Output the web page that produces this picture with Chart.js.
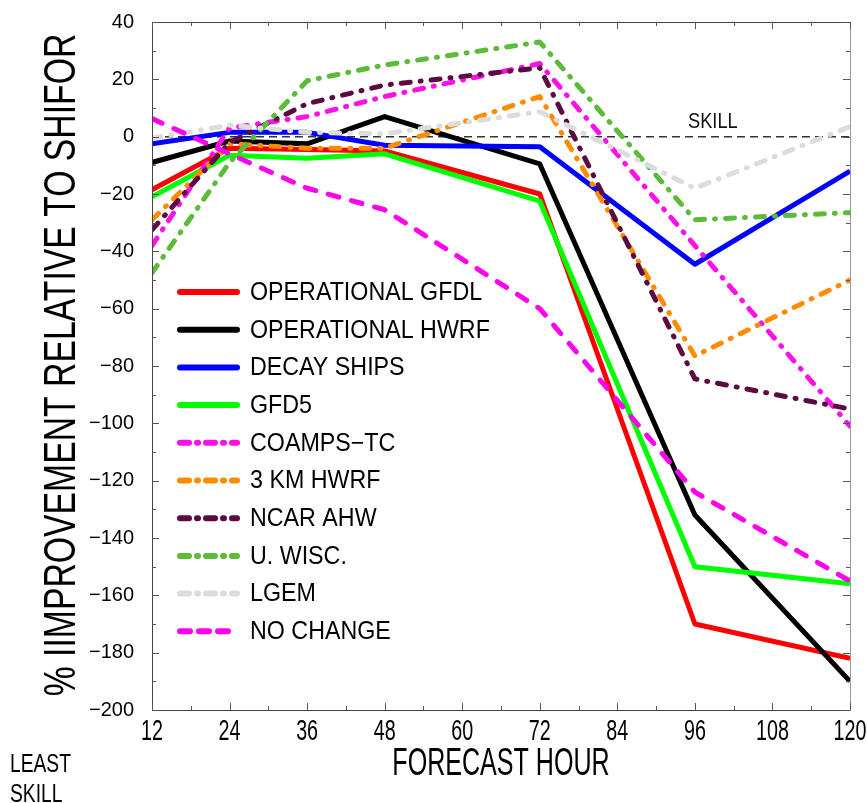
<!DOCTYPE html>
<html>
<head>
<meta charset="utf-8">
<script src="https://cdn.jsdelivr.net/npm/chart.js@4/dist/chart.umd.min.js"></script>
<style>
html,body{margin:0;padding:0;background:#fff;}
canvas{display:block;}
</style>
</head>
<body>
<canvas id="c" width="867" height="803"></canvas>
<script>
// ---- data ----
const hours = [12, 24, 36, 48, 72, 96, 120];
const xTickLabels = [12, 24, 36, 48, 60, 72, 84, 96, 108, 120];
const yTickLabels = [40, 20, 0, -20, -40, -60, -80, -100, -120, -140, -160, -180, -200];
const seriesNames = ["OPERATIONAL GFDL", "OPERATIONAL HWRF", "DECAY SHIPS", "GFD5", "COAMPS\u2212TC", "3 KM HWRF", "NCAR AHW", "U. WISC.", "LGEM", "NO CHANGE"];
const opGFDL   = [-18.5, -4, -4.5, -5, -20, -170, -182];
const opHWRF   = [-9, -1.5, -2.5, 7, -9.5, -132, -190];
const decayShips = [-2.5, 1.5, 1.5, -3, -3.5, -44.5, -12];
const gfd5     = [-21, -6.5, -7.5, -6, -22.5, -150, -156];
const coamps   = [-38, 3, 7, 14, 25.5, -38, -101];
const hwrf3km  = [-29, -2.5, -4, -4, 14, -76.5, -50];
const ncarAhw  = [-32.5, -2, 11.5, 18, 24, -84.5, -95];
const uWisc    = [-47.5, -9, 19.5, 25, 33, -29, -26.5];
const lgem     = [-0.5, 4, 1.5, 1, 8.7, -18, 3.5];
const noChange = [6.3, -6, -18, -25.5, -60, -124, -155];

const allSeries = [opGFDL, opHWRF, decayShips, gfd5, coamps, hwrf3km, ncarAhw, uWisc, lgem, noChange];
const colors = ["#ff0000", "#000000", "#0000ff", "#00ff00", "#ff10e8", "#ff8c00", "#5c0a42", "#5cbb38", "#dcdcdc", "#ff00ee"];
const DASHDOT = [9, 10, 1, 10];
const DASH = [11, 13];
const dashes = [[], [], [], [], DASHDOT, DASHDOT, DASHDOT, DASHDOT, DASHDOT, DASH];

const N = allSeries.length;
const datasets = allSeries.map((vals, i) => ({
  label: seriesNames[i],
  data: hours.map((h, k) => ({x: h, y: vals[k]})),
  borderColor: colors[i],
  backgroundColor: colors[i],
  borderWidth: 5,
  borderDash: dashes[i],
  borderCapStyle: dashes[i].length ? 'round' : 'butt',
  borderJoinStyle: 'round',
  pointRadius: 0,
  tension: 0,
  fill: false,
  order: N - i
}));

function condText(ctx, text, x, y, font, squeeze, align) {
  ctx.save();
  ctx.font = font;
  const w = ctx.measureText(text).width;
  ctx.translate(x, y);
  ctx.scale(squeeze, 1);
  ctx.textAlign = align || 'left';
  ctx.fillText(text, 0, 0);
  ctx.restore();
  return w * squeeze;
}

const decor = {
  id: 'decor',
  beforeDatasetsDraw(chart) {
    const ctx = chart.ctx, a = chart.chartArea, ys = chart.scales.y;
    const y0 = ys.getPixelForValue(0);
    ctx.save();
    ctx.strokeStyle = '#333';
    ctx.lineWidth = 1.5;
    ctx.setLineDash([8, 5]);
    ctx.beginPath();
    ctx.moveTo(a.left, y0);
    ctx.lineTo(a.right, y0);
    ctx.stroke();
    ctx.setLineDash([]);
    ctx.fillStyle = '#111';
    ctx.textBaseline = 'alphabetic';
    condText(ctx, 'SKILL', 688, 128, '22px "Liberation Sans", Arial, sans-serif', 0.83, 'left');
    ctx.restore();
  },
  afterDraw(chart) {
    const ctx = chart.ctx, a = chart.chartArea, xs = chart.scales.x, ys = chart.scales.y;
    ctx.save();
    // frame
    ctx.lineWidth = 1;
    ctx.strokeStyle = '#444';
    ctx.beginPath();
    ctx.moveTo(a.right + 0.5, a.top + 0.5);
    ctx.lineTo(a.left + 0.5, a.top + 0.5);
    ctx.lineTo(a.left + 0.5, a.bottom + 0.5);
    ctx.lineTo(a.right + 0.5, a.bottom + 0.5);
    ctx.stroke();
    ctx.strokeStyle = '#999';
    ctx.beginPath();
    ctx.moveTo(a.right + 0.5, a.top + 0.5);
    ctx.lineTo(a.right + 0.5, a.bottom + 0.5);
    ctx.stroke();
    // inward ticks
    ctx.strokeStyle = '#555';
    for (let h = 12; h <= 120; h += 6) {
      const px = Math.round(xs.getPixelForValue(h)) + 0.5;
      const len = (h % 12 === 0) ? 7 : 4;
      ctx.beginPath();
      ctx.moveTo(px, a.bottom); ctx.lineTo(px, a.bottom - len);
      ctx.moveTo(px, a.top); ctx.lineTo(px, a.top + len);
      ctx.stroke();
    }
    for (let v = -200; v <= 40; v += 10) {
      const py = Math.round(ys.getPixelForValue(v)) + 0.5;
      const len = (v % 20 === 0) ? 7 : 4;
      ctx.beginPath();
      ctx.moveTo(a.left, py); ctx.lineTo(a.left + len, py);
      ctx.moveTo(a.right, py); ctx.lineTo(a.right - len, py);
      ctx.stroke();
    }
    // x tick labels
    ctx.fillStyle = '#000';
    ctx.textBaseline = 'alphabetic';
    xTickLabels.forEach(h => {
      const px = xs.getPixelForValue(h);
      condText(ctx, String(h), px, 740, '29px "Liberation Sans", Arial, sans-serif', 0.68, 'center');
    });
    // x title
    condText(ctx, 'FORECAST HOUR', 501, 775, '38px "Liberation Sans", Arial, sans-serif', 0.66, 'center');
    condText(ctx, 'LEAST', 10, 772, '26px "Liberation Sans", Arial, sans-serif', 0.74, 'left');
    condText(ctx, 'SKILL', 10, 802, '26px "Liberation Sans", Arial, sans-serif', 0.74, 'left');
    // y title
    ctx.save();
    ctx.translate(75, 365);
    ctx.rotate(-Math.PI / 2);
    condText(ctx, '% IIMPROVEMENT RELATIVE TO SHIFOR', 0, 0, '45px "Liberation Sans", Arial, sans-serif', 0.75, 'center');
    ctx.restore();
    // legend
    const lx0 = 180, lx1 = 237, ly0 = 292, step = 37.7;
    chart.data.datasets.forEach((ds, i) => {
      const y = ly0 + i * step;
      ctx.save();
      ctx.strokeStyle = ds.borderColor;
      ctx.lineWidth = 6;
      ctx.lineCap = 'round';
      ctx.setLineDash(ds.borderDash.length ? (i === 9 ? [10, 9] : [9, 8, 1, 8]) : []);
      ctx.beginPath();
      ctx.moveTo(lx0, y); ctx.lineTo(lx1, y);
      ctx.stroke();
      ctx.restore();
      ctx.fillStyle = '#000';
      ctx.textBaseline = 'middle';
      condText(ctx, ds.label, 250, y + 1, '25px "Liberation Sans", Arial, sans-serif', 0.93, 'left');
    });
    ctx.restore();
  }
};

new Chart(document.getElementById('c'), {
  type: 'line',
  data: { datasets },
  options: {
    responsive: false,
    animation: false,
    devicePixelRatio: 1,
    layout: { padding: { left: 0, right: 17, top: 18, bottom: 0 } },
    plugins: { legend: { display: false }, tooltip: { enabled: false } },
    scales: {
      x: {
        type: 'linear', min: 12, max: 120,
        grid: { display: false }, border: { display: false },
        ticks: { display: false, stepSize: 12 },
        afterFit(s) { s.height = 93; }
      },
      y: {
        type: 'linear', min: -200, max: 40,
        grid: { display: false }, border: { display: false },
        afterBuildTicks(s) { s.ticks = yTickLabels.map(v => ({ value: v })); },
        ticks: {
          padding: 10, color: '#000',
          font: { family: '"Liberation Sans", Arial, sans-serif', size: 20 },
          callback: v => String(v).replace('-', '\u2212')
        },
        afterFit(s) { s.width = 152; }
      }
    }
  },
  plugins: [decor]
});
</script>
</body>
</html>
